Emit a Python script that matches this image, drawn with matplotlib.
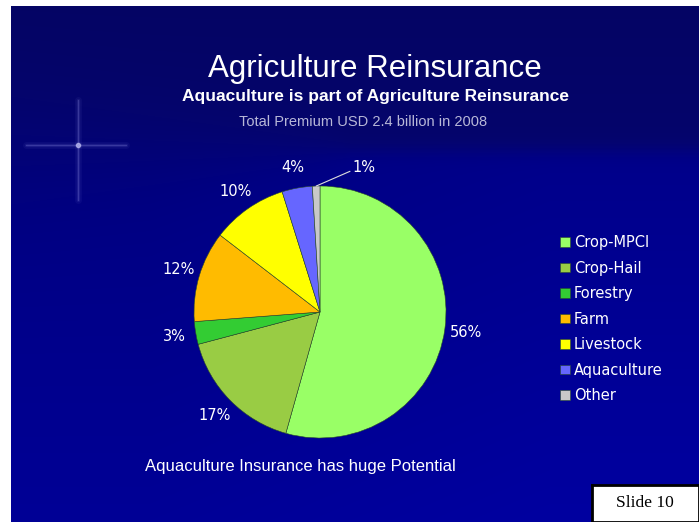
import numpy as np
import matplotlib
matplotlib.use("Agg")
import matplotlib.pyplot as plt

# premium split, 2008 (labels are the values themselves)
categories = ["Crop-MPCI", "Crop-Hail", "Forestry", "Farm", "Livestock", "Aquaculture", "Other"]
shares = [56, 17, 3, 12, 10, 4, 1]
colors = ["#99FF66", "#99CC44", "#33CC33", "#FFBB00", "#FFFF00", "#6666FF", "#C8C8C8"]

W, H = 699, 522
fig = plt.figure(figsize=(W / 100, H / 100), dpi=100, facecolor="white")

# slide background: dark navy top, brighter blue below ~y=150
ny, nx = H - 6, W - 11
py = np.arange(ny)[:, None] + 6.0
px = np.arange(nx)[None, :] + 11.0
soft = 1 / (1 + np.exp(-(py - 150) / (5 + 35 * np.clip(1 - px / 350, 0, 1))))
b = (1 - soft) * (100 + 8 * py / 150) + soft * (128 + 22 * (py - 150) / 370)
b = b + soft * 10 * np.clip((px - 150) / 400, 0, 1)
r = 5 * (1 - soft) + 0 * px
g = 5 * (1 - soft) + 0 * px
img = np.clip(np.dstack([r, g, b]) / 255.0, 0, 1)
fig.figimage(img, xo=11, yo=0, origin="upper", zorder=-10)

# overlay axes in pixel coords for decorations
deco = fig.add_axes([0, 0, 1, 1])
deco.set_xlim(0, W)
deco.set_ylim(H, 0)
deco.axis("off")
deco.patch.set_alpha(0)

# faint sparkle on the left
sx, sy = 78, 145
for lw, a in [(5, 0.05), (2.5, 0.08), (1, 0.22)]:
    deco.plot([sx - 52, sx + 48], [sy, sy], color="#B0B0FF", lw=lw, alpha=a, solid_capstyle="round")
    deco.plot([sx, sx], [sy - 45, sy + 55], color="#B0B0FF", lw=lw, alpha=a, solid_capstyle="round")
deco.plot([sx], [sy], "o", ms=3, color="#D0D0FF", alpha=0.6)

# titles
fig.text(375 / W, 1 - 69 / H, "Agriculture Reinsurance", ha="center", va="center",
         color="white", fontsize=22.5, family="Liberation Sans")
fig.text(375 / W, 1 - 97 / H, "Aquaculture is part of Agriculture Reinsurance", ha="center",
         va="center", color="white", fontsize=12.5, fontweight="bold", family="Liberation Sans")
fig.text(363 / W, 1 - 122 / H, "Total Premium USD 2.4 billion in 2008", ha="center",
         va="center", color="#B8B8D8", fontsize=10.5, family="Liberation Sans")
fig.text(145 / W, 1 - 466 / H, "Aquaculture Insurance has huge Potential", ha="left",
         va="center", color="white", fontsize=12, family="Liberation Sans")

# pie
cx, cy, rad = 320, 312, 126
ax = fig.add_axes([(cx - rad) / W, 1 - (cy + rad) / H, 2 * rad / W, 2 * rad / H])
labels = ["%d%%" % v for v in shares]
wedges, texts = ax.pie(shares, colors=colors, startangle=90, counterclock=False,
                       labels=labels[:-1] + [""], labeldistance=1.17,
                       wedgeprops=dict(edgecolor="#2A4A2A", linewidth=0.4),
                       textprops=dict(color="white", fontsize=10.5, family="DejaVu Sans"))
for t in texts:
    t.set_ha("center")
    t.set_va("center")
ax.set_xlim(-1, 1)
ax.set_ylim(-1, 1)
ax.set_aspect("equal")

# small slice gets a leader line
w = wedges[-1]
mid = np.deg2rad((w.theta1 + w.theta2) / 2)
ax.annotate(labels[-1], xy=(np.cos(mid), np.sin(mid)), xytext=(0.26, 1.15),
            color="white", fontsize=10.5, family="DejaVu Sans", ha="left", va="center",
            arrowprops=dict(arrowstyle="-", color="#DDDDDD", lw=0.8,
                            shrinkA=0, shrinkB=0, relpos=(0, 0.3)),
            annotation_clip=False)

# legend
fig.legend(wedges, categories, loc="upper left", bbox_to_anchor=(547 / W, 1 - 222 / H),
           frameon=False, labelcolor="white", handlelength=0.65,
           handleheight=0.65, handletextpad=0.3, labelspacing=0.72,
           prop=dict(family="DejaVu Sans", size=10.5))

# slide number box
box = fig.add_axes([592 / W, 0, 1 - 592 / W, 1 - 485 / H])
box.set_xticks([])
box.set_yticks([])
box.set_facecolor("white")
for s in box.spines.values():
    s.set_linewidth(2)
    s.set_color("black")
box.text(0.49, 0.52, "Slide 10", ha="center", va="center", fontsize=12.5,
         family="Liberation Serif", color="black", transform=box.transAxes)

fig.savefig("out.png", dpi=100, facecolor="white")
